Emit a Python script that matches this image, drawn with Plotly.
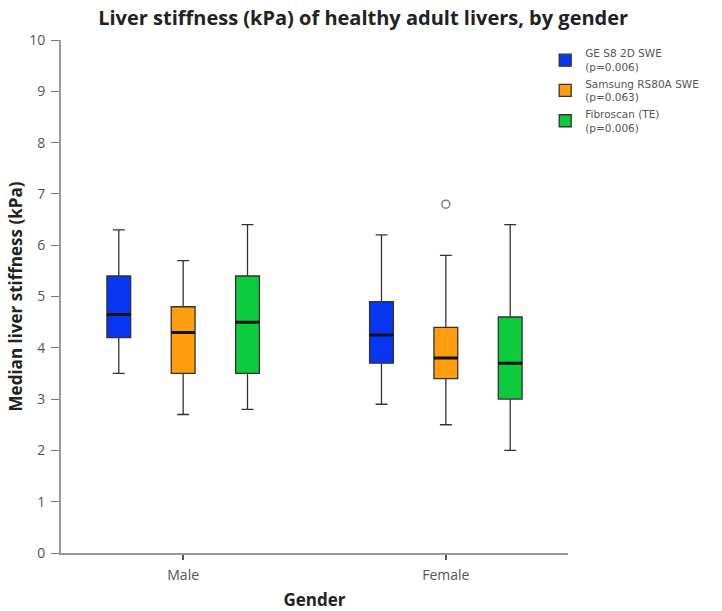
import plotly.graph_objects as go

genders = ["Male", "Female"]
devices = ["GE S8 2D SWE<br>(p=0.006)", "Samsung RS80A SWE<br>(p=0.063)", "Fibroscan (TE)<br>(p=0.006)"]
colors = ["#0636f2", "#ff9d0c", "#0ccb3c"]

ge_lower = [3.5, 2.9]
ge_q1 = [4.2, 3.7]
ge_median = [4.65, 4.25]
ge_q3 = [5.4, 4.9]
ge_upper = [6.3, 6.2]

sam_lower = [2.7, 2.5]
sam_q1 = [3.5, 3.4]
sam_median = [4.3, 3.8]
sam_q3 = [4.8, 4.4]
sam_upper = [5.7, 5.8]

fib_lower = [2.8, 2.0]
fib_q1 = [3.5, 3.0]
fib_median = [4.5, 3.7]
fib_q3 = [5.4, 4.6]
fib_upper = [6.4, 6.4]

outlier_x = ["Female"]
outlier_y = [6.8]

stats = [
    (ge_lower, ge_q1, ge_median, ge_q3, ge_upper),
    (sam_lower, sam_q1, sam_median, sam_q3, sam_upper),
    (fib_lower, fib_q1, fib_median, fib_q3, fib_upper),
]

FONT = "Open Sans"
LFONT = "DejaVu Sans"
fig = go.Figure()
for i, (lo, q1, med, q3, up) in enumerate(stats):
    fig.add_trace(go.Box(
        x=genders, lowerfence=lo, q1=q1, median=med, q3=q3, upperfence=up,
        name=devices[i], fillcolor=colors[i],
        line=dict(color="#333333", width=1.3), whiskerwidth=0.5,
        offsetgroup=str(i), boxpoints=False, hoverinfo="skip",
    ))
for i, (lo, q1, med, q3, up) in enumerate(stats):
    fig.add_trace(go.Box(
        x=genders, lowerfence=med, q1=med, median=med, q3=med, upperfence=med,
        name=devices[i], fillcolor="rgba(0,0,0,0)",
        line=dict(color="#111111", width=3), whiskerwidth=0,
        offsetgroup=str(i), boxpoints=False, showlegend=False, hoverinfo="skip",
    ))

fig.add_trace(go.Scatter(
    x=outlier_x, y=outlier_y, mode="markers", showlegend=False,
    marker=dict(symbol="circle-open", size=8, color="#808080", line=dict(width=1.5)),
    hoverinfo="skip",
))

fig.update_layout(
    width=722, height=611,
    margin=dict(l=61, r=154, t=40, b=58),
    paper_bgcolor="white", plot_bgcolor="white",
    boxmode="group", boxgap=0.265, boxgroupgap=0.63,
    font=dict(family=FONT, color="#555555", size=14),
    title=dict(text="<b>Liver stiffness (kPa) of healthy adult livers, by gender</b>",
               x=0.503, xref="container", y=0.971, yref="container",
               xanchor="center", yanchor="middle",
               font=dict(family=FONT, size=20, color="#222222")),
    showlegend=True,
    legend=dict(x=0.955, y=1.0, xanchor="left", yanchor="top",
                font=dict(family=LFONT, size=10.5, color="#555555"),
                bgcolor="rgba(0,0,0,0)", tracegroupgap=0, itemwidth=30),
    xaxis=dict(type="category", range=[-0.465, 1.465], showgrid=False,
               automargin=False,
               showline=True, linecolor="#999999", linewidth=2,
               ticks="outside", ticklen=5, tickcolor="#555555", tickwidth=1.5,
               ticklabelstandoff=3,
               tickfont=dict(size=14, color="#555555"),
               title=dict(text="<b>Gender</b>", font=dict(size=17, color="#222222"), standoff=12)),
    yaxis=dict(range=[0, 10], dtick=1, showgrid=False, zeroline=False,
               automargin=False,
               showline=True, linecolor="#999999", linewidth=2,
               ticks="outside", ticklen=8, tickcolor="#777777", tickwidth=1,
               ticklabelstandoff=3,
               tickfont=dict(size=14, color="#555555"),
               title=dict(text="<b>Median liver stiffness (kPa)</b>", font=dict(size=17, color="#222222"), standoff=2)),
)

fig.write_html("out.html")
